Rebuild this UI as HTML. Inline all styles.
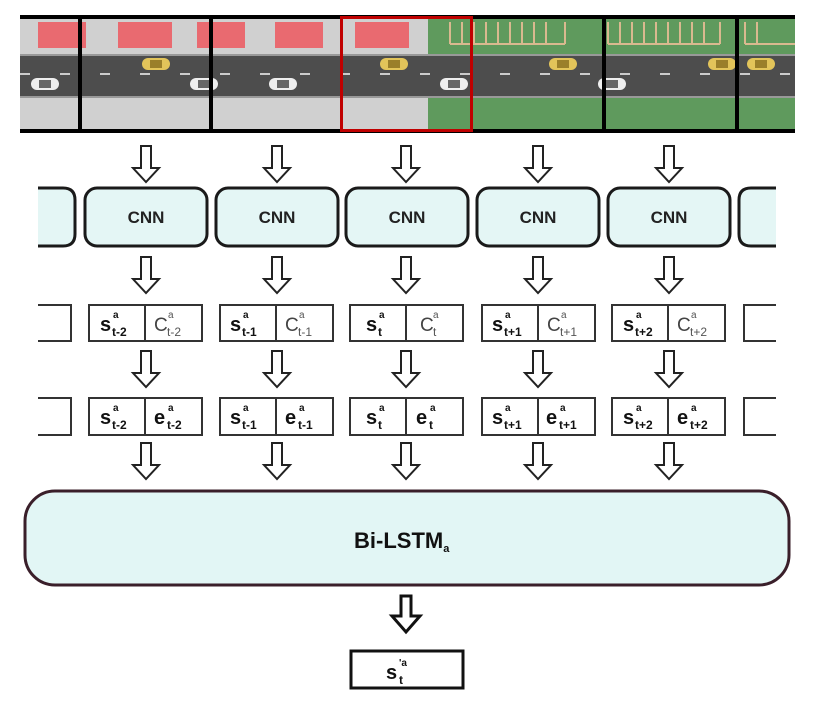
<!DOCTYPE html>
<html><head><meta charset="utf-8"><style>
body{margin:0;background:#fff;}
svg{display:block;font-family:"Liberation Sans","DejaVu Sans",sans-serif;}
</style></head><body>
<svg width="818" height="704" viewBox="0 0 818 704" xmlns="http://www.w3.org/2000/svg">
<defs>
<g id="ar"><polygon points="-5,0 5,0 5,22 13,22 0,36 -13,22 -5,22" fill="#fff" stroke="#222" stroke-width="2" stroke-linejoin="miter"/></g>
<g id="car"><rect x="-14" y="-6" width="28" height="12" rx="6" fill="#e2c45a"/><rect x="-6" y="-4" width="12" height="8" fill="#9a7f2a"/></g>
<g id="wcar"><rect x="-14" y="-6" width="28" height="12" rx="6" fill="#eee"/><rect x="-6" y="-4" width="12" height="8" fill="#666"/></g>
</defs>
<!-- image strip -->
<rect x="20" y="17" width="408" height="114" fill="#d0d0d0"/>
<rect x="428" y="17" width="367" height="114" fill="#5f9a5d"/>
<rect x="38" y="22" width="48" height="26" fill="#e96a70"/>
<rect x="118" y="22" width="54" height="26" fill="#e96a70"/>
<rect x="197" y="22" width="48" height="26" fill="#e96a70"/>
<rect x="275" y="22" width="48" height="26" fill="#e96a70"/>
<rect x="355" y="22" width="54" height="26" fill="#e96a70"/>
<g stroke="#d9b98f" stroke-width="2" fill="none">
<path d="M450 44 H565 M450 22 V44 M462 22 V44 M474 22 V44 M486 22 V44 M498 22 V44 M510 22 V44 M522 22 V44 M534 22 V44 M546 22 V44 M565 22 V44"/>
<path d="M608 44 H720 M608 22 V44 M620 22 V44 M632 22 V44 M644 22 V44 M656 22 V44 M668 22 V44 M680 22 V44 M692 22 V44 M704 22 V44 M720 22 V44"/>
<path d="M745 44 H795 M745 22 V44 M757 22 V44"/>
</g>
<rect x="20" y="54" width="775" height="44" fill="#4d4d4d"/>
<rect x="20" y="54" width="775" height="2" fill="#999"/>
<rect x="20" y="96" width="775" height="2" fill="#999"/>
<line x1="20" y1="74" x2="795" y2="74" stroke="#ccc" stroke-width="2" stroke-dasharray="10 30"/>
<use href="#car" x="156" y="64"/><use href="#car" x="394" y="64"/><use href="#car" x="563" y="64"/><use href="#car" x="722" y="64"/><use href="#car" x="761" y="64"/>
<use href="#wcar" x="45" y="84"/><use href="#wcar" x="204" y="84"/><use href="#wcar" x="283" y="84"/><use href="#wcar" x="454" y="84"/><use href="#wcar" x="612" y="84"/>
<rect x="20" y="15" width="775" height="4" fill="#000"/>
<rect x="20" y="129" width="775" height="4" fill="#000"/>
<rect x="78" y="15" width="4" height="118" fill="#000"/>
<rect x="209" y="15" width="4" height="118" fill="#000"/>
<rect x="602" y="15" width="4" height="118" fill="#000"/>
<rect x="735" y="15" width="4" height="118" fill="#000"/>
<rect x="341.5" y="17.5" width="130" height="113" fill="none" stroke="#c00000" stroke-width="3"/>
<!-- arrows rows -->
<g>
<use href="#ar" x="146" y="146"/><use href="#ar" x="277" y="146"/><use href="#ar" x="406" y="146"/><use href="#ar" x="538" y="146"/><use href="#ar" x="669" y="146"/>
<use href="#ar" x="146" y="257"/><use href="#ar" x="277" y="257"/><use href="#ar" x="406" y="257"/><use href="#ar" x="538" y="257"/><use href="#ar" x="669" y="257"/>
<use href="#ar" x="146" y="351"/><use href="#ar" x="277" y="351"/><use href="#ar" x="406" y="351"/><use href="#ar" x="538" y="351"/><use href="#ar" x="669" y="351"/>
<use href="#ar" x="146" y="443"/><use href="#ar" x="277" y="443"/><use href="#ar" x="406" y="443"/><use href="#ar" x="538" y="443"/><use href="#ar" x="669" y="443"/>
</g>
<!-- CNN -->
<g fill="#e4f6f5" stroke="#1a1a1a" stroke-width="3">
<path d="M38 188 H63 Q75 188 75 200 V234 Q75 246 63 246 H38"/>
<rect x="85" y="188" width="122" height="58" rx="12"/>
<rect x="216" y="188" width="122" height="58" rx="12"/>
<rect x="346" y="188" width="122" height="58" rx="12"/>
<rect x="477" y="188" width="122" height="58" rx="12"/>
<rect x="608" y="188" width="122" height="58" rx="12"/>
<path d="M776 188 H751 Q739 188 739 200 V234 Q739 246 751 246 H776"/>
</g>
<g font-size="17" font-weight="bold" fill="#222" text-anchor="middle">
<text x="146" y="223">CNN</text><text x="277" y="223">CNN</text><text x="407" y="223">CNN</text><text x="538" y="223">CNN</text><text x="669" y="223">CNN</text>
</g>
<!-- state boxes -->
<g fill="#fff" stroke="#333" stroke-width="2">
<path d="M38 305 H71 V341 H38"/><path d="M38 398 H71 V435 H38"/>
<path d="M776 305 H744 V341 H776"/><path d="M776 398 H744 V435 H776"/>
<rect x="89" y="305" width="113" height="36"/><line x1="145" y1="305" x2="145" y2="341"/>
<rect x="220" y="305" width="113" height="36"/><line x1="276" y1="305" x2="276" y2="341"/>
<rect x="350" y="305" width="113" height="36"/><line x1="406" y1="305" x2="406" y2="341"/>
<rect x="482" y="305" width="113" height="36"/><line x1="538" y1="305" x2="538" y2="341"/>
<rect x="612" y="305" width="113" height="36"/><line x1="668" y1="305" x2="668" y2="341"/>
<rect x="89" y="398" width="113" height="37"/><line x1="145" y1="398" x2="145" y2="435"/>
<rect x="220" y="398" width="113" height="37"/><line x1="276" y1="398" x2="276" y2="435"/>
<rect x="350" y="398" width="113" height="37"/><line x1="406" y1="398" x2="406" y2="435"/>
<rect x="482" y="398" width="113" height="37"/><line x1="538" y1="398" x2="538" y2="435"/>
<rect x="612" y="398" width="113" height="37"/><line x1="668" y1="398" x2="668" y2="435"/>
</g>
<g fill="#111">
<!-- row1 -->
<g font-size="20" font-weight="bold">
<text x="100" y="331">s</text><text x="230" y="331">s</text><text x="366" y="331">s</text><text x="492" y="331">s</text><text x="623" y="331">s</text>
<text x="100" y="424">s</text><text x="230" y="424">s</text><text x="366" y="424">s</text><text x="492" y="424">s</text><text x="623" y="424">s</text>
<text x="154" y="424">e</text><text x="285" y="424">e</text><text x="416" y="424">e</text><text x="546" y="424">e</text><text x="677" y="424">e</text>
</g>
<g font-size="19" fill="#444">
<text x="154" y="331">C</text><text x="285" y="331">C</text><text x="420" y="331">C</text><text x="547" y="331">C</text><text x="677" y="331">C</text>
</g>
<g font-size="10" font-weight="bold">
<text x="113" y="318">a</text><text x="243" y="318">a</text><text x="379" y="318">a</text><text x="505" y="318">a</text><text x="636" y="318">a</text>
<text x="113" y="411">a</text><text x="243" y="411">a</text><text x="379" y="411">a</text><text x="505" y="411">a</text><text x="636" y="411">a</text>
<text x="168" y="411">a</text><text x="299" y="411">a</text><text x="430" y="411">a</text><text x="560" y="411">a</text><text x="691" y="411">a</text>
<text x="112" y="336" font-size="12">t-2</text><text x="242" y="336" font-size="12">t-1</text><text x="378" y="336" font-size="12">t</text><text x="504" y="336" font-size="12">t+1</text><text x="635" y="336" font-size="12">t+2</text>
<text x="112" y="429" font-size="12">t-2</text><text x="242" y="429" font-size="12">t-1</text><text x="378" y="429" font-size="12">t</text><text x="504" y="429" font-size="12">t+1</text><text x="635" y="429" font-size="12">t+2</text>
<text x="167" y="429" font-size="12">t-2</text><text x="298" y="429" font-size="12">t-1</text><text x="429" y="429" font-size="12">t</text><text x="559" y="429" font-size="12">t+1</text><text x="690" y="429" font-size="12">t+2</text>
</g>
<g font-size="10" fill="#555">
<text x="168" y="318">a</text><text x="299" y="318">a</text><text x="433" y="318">a</text><text x="561" y="318">a</text><text x="691" y="318">a</text>
<text x="167" y="336" font-size="12">t-2</text><text x="298" y="336" font-size="12">t-1</text><text x="433" y="336" font-size="12">t</text><text x="560" y="336" font-size="12">t+1</text><text x="690" y="336" font-size="12">t+2</text>
</g>
</g>
<!-- Bi-LSTM -->
<rect x="25" y="491" width="764" height="94" rx="30" fill="#e2f6f5" stroke="#3a1f2a" stroke-width="3"/>
<text x="354" y="548" font-size="22" font-weight="bold" fill="#111">Bi-LSTM<tspan font-size="11" dy="4">a</tspan></text>
<polygon points="401,596 411,596 411,616 420,616 406,632 392,616 401,616" fill="#fff" stroke="#111" stroke-width="3"/>
<rect x="351" y="651" width="112" height="37" fill="#fff" stroke="#111" stroke-width="3"/>
<text x="386" y="679" font-size="20" font-weight="bold" fill="#111">s</text>
<text x="399" y="666" font-size="10" font-weight="bold" fill="#111">'a</text>
<text x="399" y="684" font-size="12" font-weight="bold" fill="#111">t</text>
</svg>
</body></html>
